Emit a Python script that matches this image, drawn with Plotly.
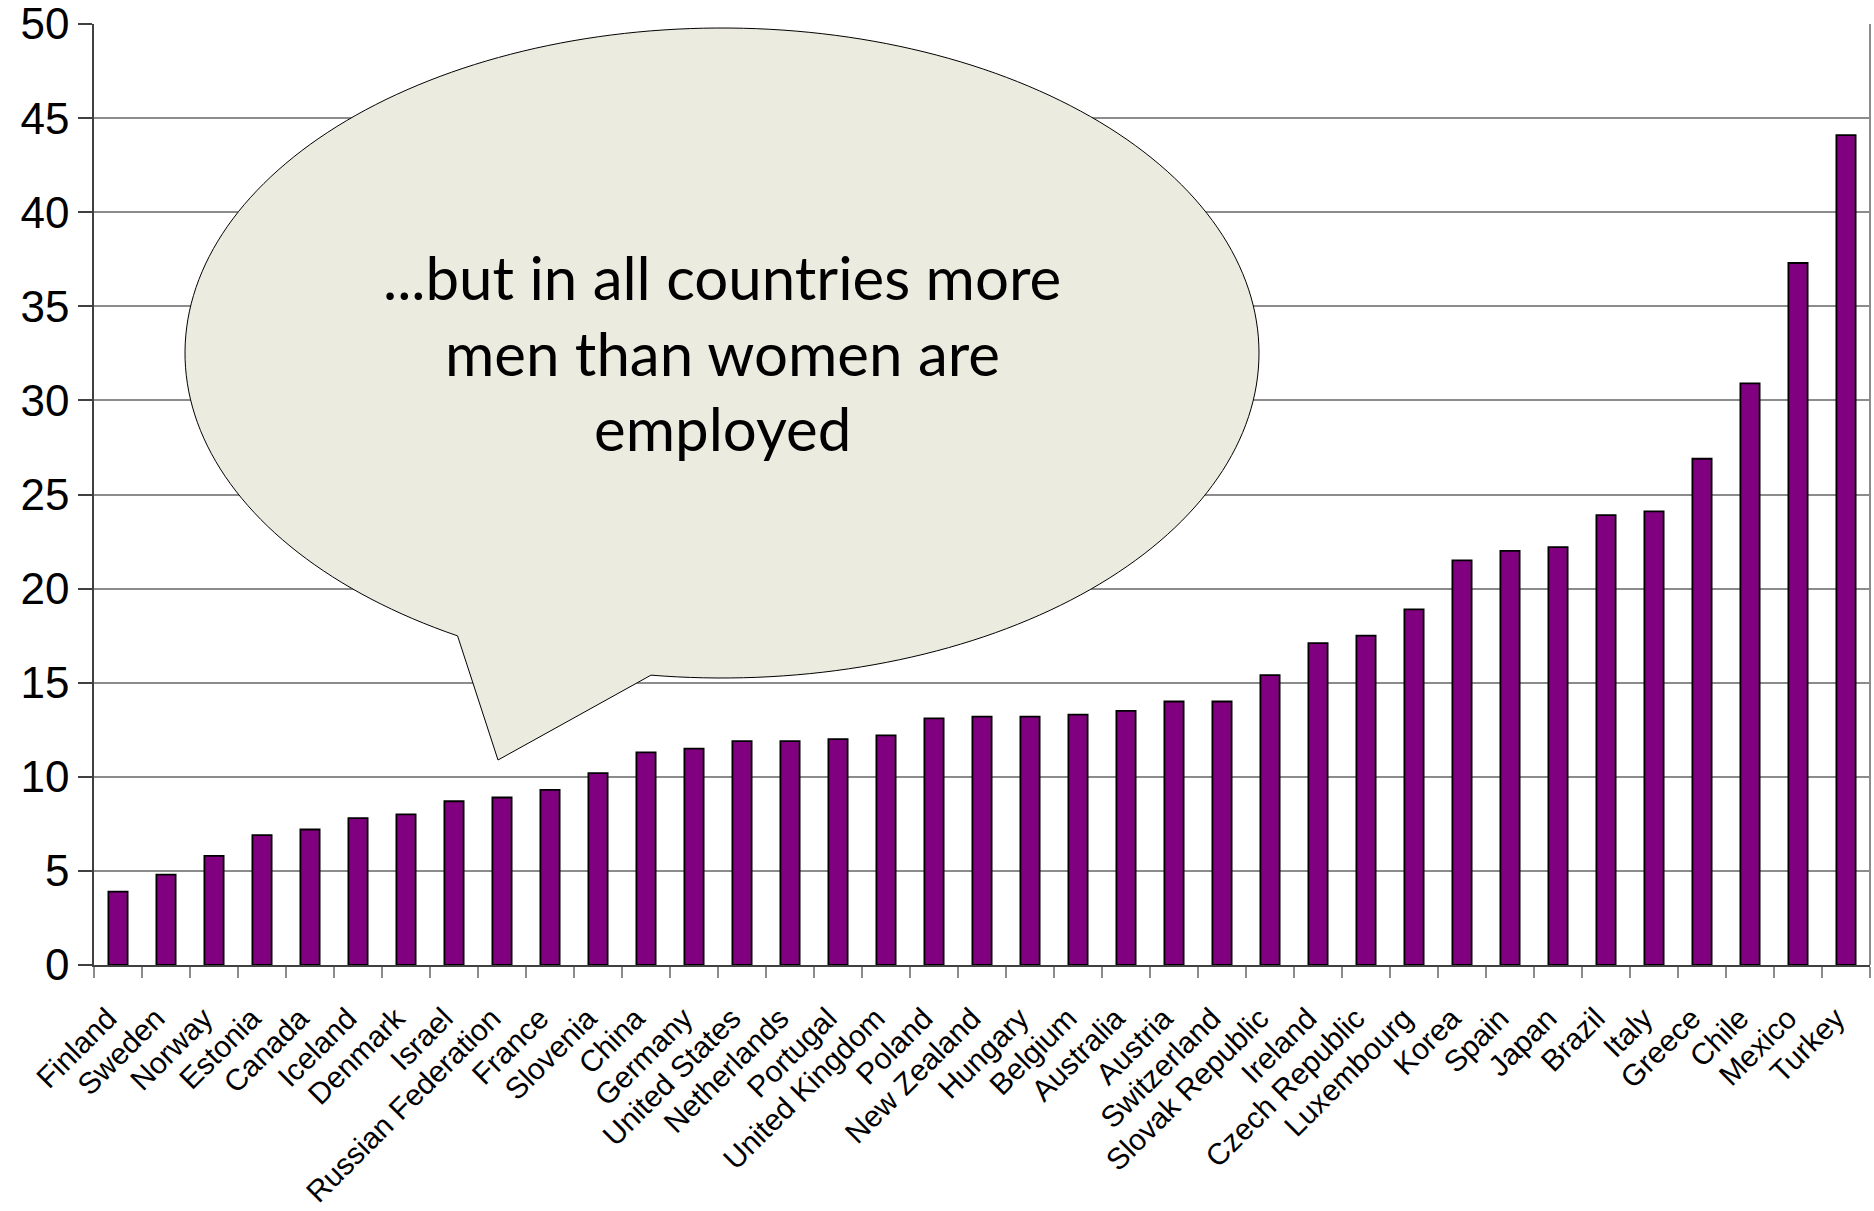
import numpy as np
import plotly.graph_objects as go

# Gap between male and female employment rates (percentage points)
countries = [
    "Finland", "Sweden", "Norway", "Estonia", "Canada", "Iceland", "Denmark",
    "Israel", "Russian Federation", "France", "Slovenia", "China", "Germany",
    "United States", "Netherlands", "Portugal", "United Kingdom", "Poland",
    "New Zealand", "Hungary", "Belgium", "Australia", "Austria", "Switzerland",
    "Slovak Republic", "Ireland", "Czech Republic", "Luxembourg", "Korea",
    "Spain", "Japan", "Brazil", "Italy", "Greece", "Chile", "Mexico", "Turkey",
]
gap = [
    3.9, 4.8, 5.8, 6.9, 7.2, 7.8, 8.0,
    8.7, 8.9, 9.3, 10.2, 11.3, 11.5,
    11.9, 11.9, 12.0, 12.2, 13.1,
    13.2, 13.2, 13.3, 13.5, 14.0, 14.0,
    15.4, 17.1, 17.5, 18.9, 21.5,
    22.0, 22.2, 23.9, 24.1, 26.9, 30.9, 37.3, 44.1,
]
y_ticks = list(range(0, 51, 5))

callout_lines = ["...but in all countries more", "men than women are", "employed"]

# Page geometry (pixels)
W, H = 1874, 1211
PL, PR, PT, PB = 94, 1870, 24, 965  # plot-area edges

def to_paper(px, py):
    return (px - PL) / (PR - PL), (PB - py) / (PB - PT)

# Speech bubble: ellipse with a tail pointing down toward the bars
cx, cy, ra, rb = 722, 353, 537, 325
t_right, t_left = np.deg2rad(97.6), np.deg2rad(119.5 - 360)
tail_tip = (498, 760)
ts = np.linspace(t_right, t_left, 240)
pts = [to_paper(cx + ra * np.cos(t), cy + rb * np.sin(t)) for t in ts]
pts.append(to_paper(*tail_tip))
path = "M " + " L ".join(f"{x:.5f},{y:.5f}" for x, y in pts) + " Z"

fig = go.Figure(
    go.Bar(
        x=countries,
        y=gap,
        width=0.4,
        marker=dict(color="#800080", line=dict(color="#000000", width=1.8)),
        hoverinfo="x+y",
    )
)

fig.add_shape(
    type="path", xref="paper", yref="paper", path=path,
    fillcolor="#ECEBE0", line=dict(color="#000000", width=1), layer="above",
)
# right border of the plot area
fig.add_shape(
    type="line", xref="paper", yref="paper", x0=1, x1=1, y0=0, y1=1,
    line=dict(color="#8C8C8C", width=2), layer="below",
)

line_centers = [277, 353, 428]
for txt, py in zip(callout_lines, line_centers):
    px_, py_ = to_paper(cx, py)
    fig.add_annotation(
        x=px_, y=py_, xref="paper", yref="paper", text=txt, showarrow=False,
        xanchor="center", yanchor="middle",
        font=dict(family="Lato, Open Sans, sans-serif", size=60, color="#000000"),
    )

fig.update_layout(
    width=W, height=H,
    margin=dict(l=PL, r=W - PR, t=PT, b=H - PB, pad=0, autoexpand=False),
    paper_bgcolor="#FFFFFF", plot_bgcolor="#FFFFFF",
    showlegend=False,
    font=dict(family="Arial, Liberation Sans, sans-serif", color="#000000"),
)
fig.update_xaxes(
    type="category", range=[-0.5, len(countries) - 0.5], automargin=False,
    tickangle=-45, tickfont=dict(size=30),
    ticklabelstandoff=22, ticklabelshift=-10,
    ticks="outside", tickson="boundaries", ticklen=11, tickcolor="#8C8C8C", tickwidth=1.5,
    showline=True, linecolor="#404040", linewidth=1.5, showgrid=False,
)
fig.update_yaxes(
    range=[0, 50], tickvals=y_ticks, tickfont=dict(size=44), automargin=False,
    ticklabeloverflow="allow",
    ticks="outside", ticklen=14, tickcolor="#404040", tickwidth=1.5,
    showline=True, linecolor="#404040", linewidth=1.5,
    showgrid=True, gridcolor="#8C8C8C", gridwidth=1.5, zeroline=False,
)

fig.write_html("out.html")
